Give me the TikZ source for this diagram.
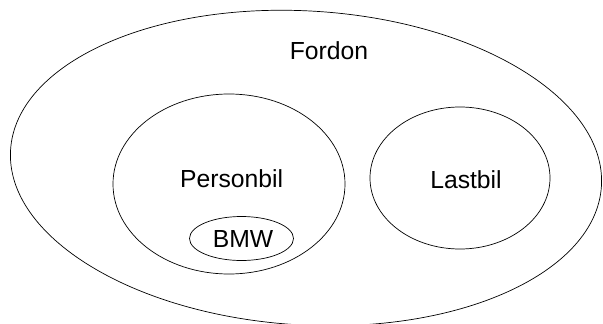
\documentclass[tikz,border=0pt]{standalone}
\usepackage{fontspec}
\setmainfont{Liberation Sans}
\begin{document}
\begin{tikzpicture}[x=1pt,y=-1pt,
  set/.style={draw=black,line width=0.7pt},
  lbl/.style={font=\fontsize{24.7}{28}\selectfont,anchor=base,inner sep=0pt}]
\useasboundingbox (0,0) rectangle (603,324);
\draw[set,rotate around={-3.5:(306,168)}] (306,168) ellipse [x radius=296, y radius=157];
\draw[set] (229,184) ellipse [x radius=116, y radius=90];
\draw[set] (460,178) ellipse [x radius=90, y radius=71];
\draw[set] (241.5,238.5) ellipse [x radius=52, y radius=22];
\node[lbl] (fordon) at (329,59.3) {Fordon};
\node[lbl] (personbil) at (231.7,187.3) {Personbil};
\node[lbl] (lastbil) at (466,188) {Lastbil};
\node[lbl] (bmw) at (243,247) {BMW};
\end{tikzpicture}
\end{document}
